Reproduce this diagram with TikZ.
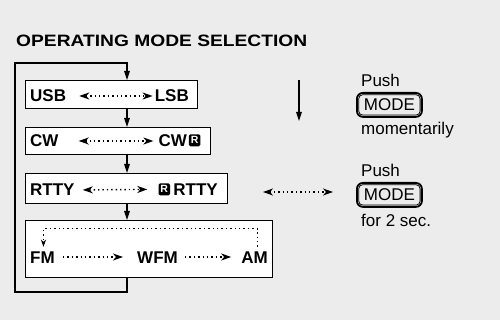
\documentclass[tikz,border=0pt]{standalone}
\usepackage{fontspec}
\usepackage{graphicx}
\setmainfont{Liberation Sans}
\usetikzlibrary{arrows.meta}
\definecolor{bg}{HTML}{ECECEC}
\begin{document}
\begin{tikzpicture}[x=1pt,y=-1pt,
  modebox/.style={draw=black,fill=white,line width=1.4pt,inner sep=0pt},
  lbl/.style={font=\fontsize{17}{18}\selectfont\bfseries,inner sep=0pt,text height=12pt,text depth=0pt},
  txt/.style={font=\fontsize{17}{20}\selectfont,inner sep=0pt},
  rbox/.style={fill=black,text=white,rounded corners=1.5pt,font=\fontsize{10.5}{10}\selectfont\bfseries,inner sep=0pt,minimum width=11.5pt,minimum height=12pt},
  solarr/.style={line width=1.3pt,line join=miter,-{Triangle[length=9pt,width=5.5pt]}},
  dotline/.style={line width=1.4pt,dash pattern=on 1.4pt off 3pt},
  dd/.style={dotline,{Stealth[length=10pt,width=7pt,inset=3pt]}-{Stealth[length=10pt,width=7pt,inset=3pt]}},
  dr/.style={dotline,-{Stealth[length=10pt,width=7pt,inset=3pt]}},
  btn/.style={draw=black,line width=1.8pt,rounded corners=6pt,minimum width=65pt,minimum height=24pt,inner sep=0pt,font=\fontsize{17}{20}\selectfont},
]
\fill[bg] (0,0) rectangle (500,320);
\useasboundingbox (0,0) rectangle (500,320);

% title
\node[anchor=base west,inner sep=0pt] (title) at (16,47) {\resizebox{291pt}{11.5pt}{\bfseries OPERATING MODE SELECTION}};

% boxes
\node[modebox,anchor=north west,minimum width=172pt,minimum height=28pt] (b1) at (25,80) {};
\node[modebox,anchor=north west,minimum width=185pt,minimum height=27pt] (b2) at (25,127) {};
\node[modebox,anchor=north west,minimum width=202pt,minimum height=30pt] (b3) at (25,173) {};
\node[modebox,anchor=north west,minimum width=247pt,minimum height=57pt] (b4) at (25,220) {};

% loop and spine
\coordinate (spine) at (127,63);
\coordinate (lt) at (15,63);
\coordinate (lb) at (15,292);
\draw[solarr] (spine |- b4.south) -- (spine |- lb) -- (lb) -- (lt) -- (spine) -- (spine |- b1.north);
\draw[solarr] (spine |- b1.south) -- (spine |- b2.north);
\draw[solarr] (spine |- b2.south) -- (spine |- b3.north);
\draw[solarr] (spine |- b3.south) -- (spine |- b4.north);

% row 1
\node[lbl,anchor=base west] (usb) at (30,102) {USB};
\node[lbl,anchor=base east] (lsb) at (189,102) {LSB};
\draw[dd,shorten <=13pt,shorten >=2pt] (usb.east) -- (lsb.west);

% row 2
\node[lbl,anchor=base west] (cw) at (30,147) {CW};
\node[rbox,anchor=south east] (r1) at (200.5,146.5) {R};
\node[lbl,anchor=base east] (cwr) at ([shift={(-1.5,0.5)}]r1.south west) {CW};
\draw[dd,shorten <=20pt,shorten >=5pt] (cw.east) -- (cwr.west);

% row 3
\node[lbl,anchor=base west] (rtty) at (30,196) {RTTY};
\node[lbl,anchor=base east] (rrtty) at (218,196) {RTTY};
\node[rbox,anchor=south east] (r2) at ([shift={(-3,-0.5)}]rrtty.base west) {R};
\draw[dd,shorten <=8pt,shorten >=11pt] (rtty.east) -- (r2.west);

% row 4
\node[lbl,anchor=base west] (fm) at (30,263) {FM};
\node[lbl,anchor=base west] (wfm) at (137,263) {WFM};
\node[lbl,anchor=base east] (am) at (268,263) {AM};
\draw[dr,shorten <=8pt,shorten >=14pt] (fm.east) -- (wfm.west);
\draw[dr,shorten <=7pt,shorten >=10pt] (wfm.east) -- (am.west);
\draw[dotline,-{Stealth[length=7pt,width=5pt,inset=2pt]}] ([shift={(3,-4)}]am.north) -- ([shift={(3,-22)}]am.north) -| ([shift={(1,-4)}]fm.north);

% legend 1
\coordinate (da1) at (299,80);
\coordinate (da2) at (299,121);
\draw[solarr] (da1) -- (da2);
\node[txt,anchor=base west] (push1) at (361,87) {Push};
\node[btn,anchor=north west] (mode1) at (356,92) {MODE};
\draw[line width=0.8pt,rounded corners=4pt] ([shift={(2.7,2.7)}]mode1.north west) rectangle ([shift={(-2.7,-2.7)}]mode1.south east);
\node[txt,anchor=base west] (mom) at (361,135) {momentarily};

% legend 2
\coordinate (la) at (263,192);
\coordinate (lc) at (333,192);
\draw[dd] (la) -- (lc);
\node[txt,anchor=base west] (push2) at (361,177) {Push};
\node[btn,anchor=north west] (mode2) at (356,182) {MODE};
\draw[line width=0.8pt,rounded corners=4pt] ([shift={(2.7,2.7)}]mode2.north west) rectangle ([shift={(-2.7,-2.7)}]mode2.south east);
\node[txt,anchor=base west] (sec) at (361,227) {for 2 sec.};
\end{tikzpicture}
\end{document}
